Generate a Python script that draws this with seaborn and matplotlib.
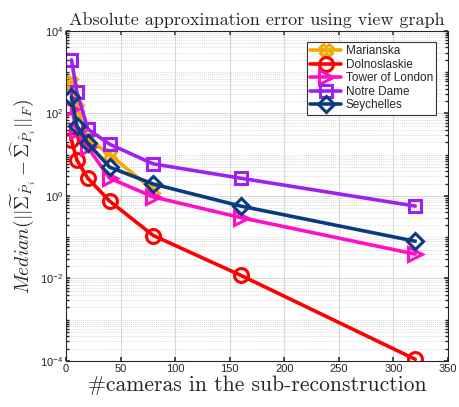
import numpy as np
import pandas as pd
import matplotlib
matplotlib.use("Agg")
import matplotlib.pyplot as plt
import matplotlib.ticker as mticker
import seaborn as sns

# ---- data ----
cams_full = [5, 10, 20, 40, 80, 160, 320]
cams_mar = [5, 10, 20, 40, 80]
marianska = [580, 135, 25, 10, 1.4]
dolnoslaskie = [23, 7.4, 2.7, 0.75, 0.11, 0.012, 1.1e-4]
tower = [130, 38, 15, 2.7, 0.95, 0.3, 0.039]
notre_dame = [2000, 330, 42, 18, 6, 2.7, 0.57]
seychelles = [250, 50, 19, 5, 1.95, 0.57, 0.08]

names = ["Marianska", "Dolnoslaskie", "Tower of London", "Notre Dame", "Seychelles"]
xs = [cams_mar, cams_full, cams_full, cams_full, cams_full]
ys = [marianska, dolnoslaskie, tower, notre_dame, seychelles]
colors = ["#F2A900", "#FF0000", "#FF10C8", "#A020F0", "#0B3A7E"]
markers = ["X", "o", ">", "s", "D"]
msizes = [9, 10, 10, 8, 8]

title = "Absolute approximation error using view graph"
xlabel = "#cameras in the sub-reconstruction"
ylabel = r"$Median(||\widetilde{\Sigma}_{\hat{P}_i} - \widehat{\Sigma}_{\hat{P}_i}||_F)$"

sns.set_theme(style="white")
plt.rcParams["font.family"] = ["Liberation Sans", "DejaVu Sans"]
plt.rcParams["mathtext.fontset"] = "cm"

fig = plt.figure(figsize=(4.59, 4.07), dpi=100)
ax = fig.add_axes([66/459, 1-361/407, (448-66)/459, (361-31)/407])

for n, x, y, c, m, ms in zip(names, xs, ys, colors, markers, msizes):
    df = pd.DataFrame({"x": x, "y": y})
    sns.lineplot(data=df, x="x", y="y", ax=ax, color=c, marker=m, markersize=ms,
                 markerfacecolor="none", markeredgecolor=c, markeredgewidth=2.2,
                 linewidth=2.6, label=n)

ax.set_yscale("log")
ax.set_xlim(0, 350)
ax.set_ylim(1e-4, 1e4)
ax.set_xticks([0, 50, 100, 150, 200, 250, 300, 350])
ax.yaxis.set_major_locator(mticker.FixedLocator([1e-4, 1e-2, 1e0, 1e2, 1e4]))
ax.yaxis.set_minor_locator(mticker.LogLocator(base=10, subs=np.arange(1, 10), numticks=50))
ax.yaxis.set_minor_formatter(mticker.NullFormatter())
ax.yaxis.set_major_formatter(mticker.FuncFormatter(lambda v, p: r"$\mathregular{10^{%d}}$" % int(round(np.log10(v)))))

ax.grid(True, which="major", color="#d9d9d9", linewidth=0.8)
ax.grid(True, which="minor", axis="y", color="#d0d0d0", linewidth=0.6, linestyle=(0, (1, 1.5)))
ax.set_axisbelow(True)
ax.tick_params(axis="both", which="major", labelsize=8, direction="in", length=3, color="#333333",
               bottom=True, left=True, top=True, right=True, pad=2)
ax.tick_params(axis="y", which="minor", direction="in", length=2, left=True, right=True)
for s in ax.spines.values():
    s.set_color("#262626")
    s.set_linewidth(0.8)

ax.set_title(title, fontfamily="cmr10", fontsize=13, pad=4)
ax.set_xlabel(xlabel, fontfamily="cmr10", fontsize=15.5, labelpad=1)
ax.set_ylabel(ylabel, fontsize=14, labelpad=2)

leg = ax.legend(loc="upper right", bbox_to_anchor=(0.985, 0.985), fontsize=8.5, frameon=True,
                fancybox=False, edgecolor="#333333", handlelength=2.6, borderpad=0.3,
                labelspacing=0.12, handletextpad=0.4, framealpha=1)
leg.get_frame().set_linewidth(0.8)

fig.savefig("out.png", dpi=100)
